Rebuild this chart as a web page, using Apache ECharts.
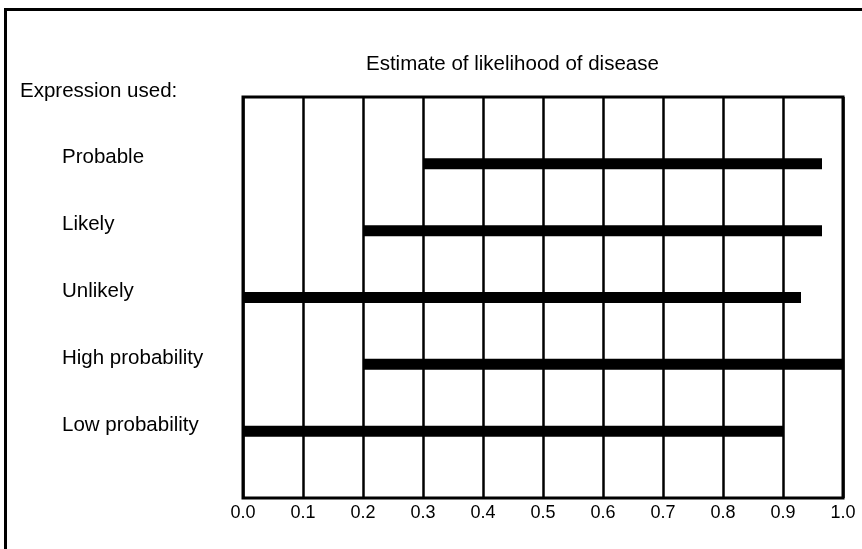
<!DOCTYPE html>
<html>
<head>
<meta charset="utf-8">
<title>Estimate of likelihood of disease</title>
<script src="https://cdn.jsdelivr.net/npm/echarts@6/dist/echarts.min.js"></script>
<style>
  html, body { margin: 0; padding: 0; background: #fff; }
  #main { width: 862px; height: 549px; }
</style>
</head>
<body>
<div id="main"></div>
<script>
// expressions, top to bottom
var expressions = ['Probable', 'Likely', 'Unlikely', 'High probability', 'Low probability'];
// range of likelihood each expression was taken to mean
var rangeStart = [0.3, 0.2, 0.0, 0.2, 0.0];
var rangeEnd = [0.965, 0.965, 0.93, 1.0, 0.9];
var xTicks = ['0.0', '0.1', '0.2', '0.3', '0.4', '0.5', '0.6', '0.7', '0.8', '0.9', '1.0'];

var font = 'Liberation Sans, Arial, Helvetica, sans-serif';

var rows = [];
for (var i = 0; i < expressions.length; i++) {
    rows.push([rangeStart[i], rangeEnd[i], i + 1]);
}

var chart = echarts.init(document.getElementById('main'));

var option = {
    backgroundColor: '#fff',
    animation: false,
    graphic: [
        {
            // frame round the figure
            type: 'rect',
            shape: { x: 5.5, y: 9.5, width: 900, height: 600 },
            style: { fill: 'none', stroke: '#000', lineWidth: 3 }
        },
        {
            type: 'text',
            left: 366,
            top: 54,
            style: { text: 'Estimate of likelihood of disease', font: '20.5px ' + font, fill: '#000' }
        },
        {
            type: 'text',
            left: 20,
            top: 81,
            style: { text: 'Expression used:', font: '20.5px ' + font, fill: '#000' }
        }
    ],
    grid: {
        left: 243,
        right: 19,
        top: 97,
        bottom: 51,
        show: true,
        borderColor: '#000',
        borderWidth: 3,
        backgroundColor: 'transparent'
    },
    xAxis: {
        type: 'value',
        min: 0,
        max: 1,
        interval: 0.1,
        axisLine: { show: false },
        axisTick: { show: false },
        splitLine: { show: true, lineStyle: { color: '#000', width: 2.5 } },
        axisLabel: {
            margin: 6,
            fontSize: 18,
            fontFamily: font,
            color: '#000',
            formatter: function (v) { return xTicks[Math.round(v * 10)]; }
        }
    },
    yAxis: {
        type: 'value',
        min: 0,
        max: 6,
        interval: 1,
        inverse: true,
        axisLine: { show: false },
        axisTick: { show: false },
        splitLine: { show: false },
        axisLabel: {
            margin: 181,
            align: 'left',
            verticalAlign: 'bottom',
            lineHeight: 12,
            fontSize: 20.5,
            fontFamily: font,
            color: '#000',
            formatter: function (v) { return expressions[v - 1] || ''; }
        }
    },
    series: [{
        type: 'custom',
        data: rows,
        encode: { x: [0, 1], y: 2 },
        renderItem: function (params, api) {
            var a = api.coord([api.value(0), api.value(2)]);
            var b = api.coord([api.value(1), api.value(2)]);
            var h = 11;
            return {
                type: 'rect',
                shape: { x: a[0], y: a[1] - h / 2, width: b[0] - a[0], height: h },
                style: { fill: '#000' }
            };
        }
    }]
};

chart.setOption(option);
</script>
</body>
</html>
